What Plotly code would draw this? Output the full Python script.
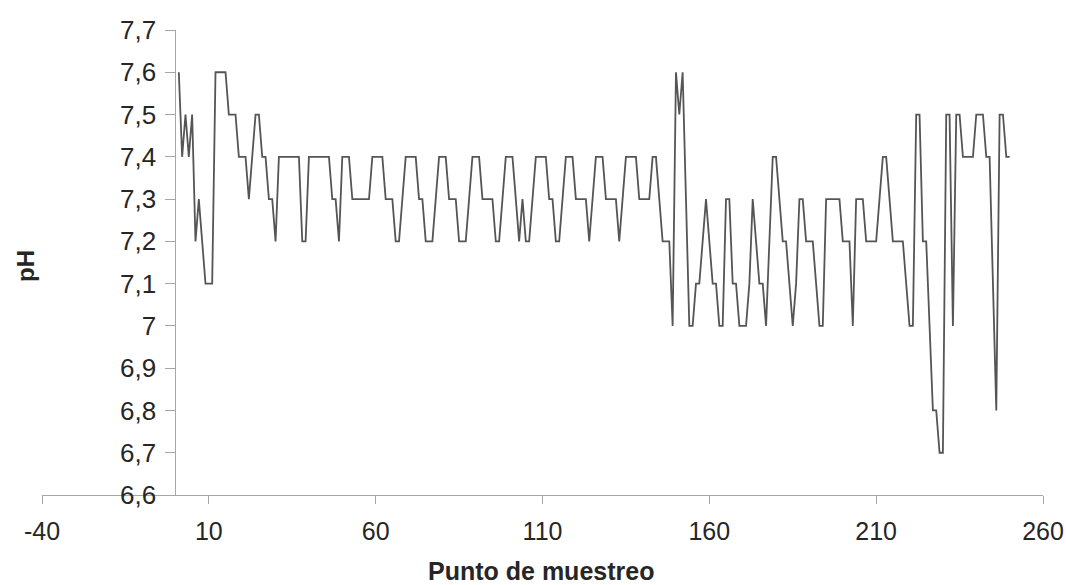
import plotly.graph_objects as go

# --- data -------------------------------------------------------------
muestra = list(range(1, 251))

ph = [
    7.6, 7.4, 7.5, 7.4, 7.5, 7.2, 7.3, 7.2, 7.1, 7.1,
    7.1, 7.6, 7.6, 7.6, 7.6, 7.5, 7.5, 7.5, 7.4, 7.4,
    7.4, 7.3, 7.4, 7.5, 7.5, 7.4, 7.4, 7.3, 7.3, 7.2,
    7.4, 7.4, 7.4, 7.4, 7.4, 7.4, 7.4, 7.2, 7.2, 7.4,
    7.4, 7.4, 7.4, 7.4, 7.4, 7.4, 7.3, 7.3, 7.2, 7.4,
    7.4, 7.4, 7.3, 7.3, 7.3, 7.3, 7.3, 7.3, 7.4, 7.4,
    7.4, 7.4, 7.3, 7.3, 7.3, 7.2, 7.2, 7.3, 7.4, 7.4,
    7.4, 7.4, 7.3, 7.3, 7.2, 7.2, 7.2, 7.3, 7.4, 7.4,
    7.4, 7.3, 7.3, 7.3, 7.2, 7.2, 7.2, 7.3, 7.4, 7.4,
    7.4, 7.3, 7.3, 7.3, 7.3, 7.2, 7.2, 7.3, 7.4, 7.4,
    7.4, 7.3, 7.2, 7.3, 7.2, 7.2, 7.3, 7.4, 7.4, 7.4,
    7.4, 7.3, 7.3, 7.2, 7.2, 7.3, 7.4, 7.4, 7.4, 7.3,
    7.3, 7.3, 7.3, 7.2, 7.3, 7.4, 7.4, 7.4, 7.3, 7.3,
    7.3, 7.3, 7.2, 7.3, 7.4, 7.4, 7.4, 7.4, 7.3, 7.3,
    7.3, 7.3, 7.4, 7.4, 7.3, 7.2, 7.2, 7.2, 7.0, 7.6,
    7.5, 7.6, 7.3, 7.0, 7.0, 7.1, 7.1, 7.2, 7.3, 7.2,
    7.1, 7.1, 7.0, 7.0, 7.3, 7.3, 7.1, 7.1, 7.0, 7.0,
    7.0, 7.1, 7.3, 7.2, 7.1, 7.1, 7.0, 7.2, 7.4, 7.4,
    7.3, 7.2, 7.2, 7.1, 7.0, 7.1, 7.3, 7.3, 7.2, 7.2,
    7.2, 7.1, 7.0, 7.0, 7.3, 7.3, 7.3, 7.3, 7.3, 7.2,
    7.2, 7.2, 7.0, 7.3, 7.3, 7.3, 7.2, 7.2, 7.2, 7.2,
    7.3, 7.4, 7.4, 7.3, 7.2, 7.2, 7.2, 7.2, 7.1, 7.0,
    7.0, 7.5, 7.5, 7.2, 7.2, 7.0, 6.8, 6.8, 6.7, 6.7,
    7.5, 7.5, 7.0, 7.5, 7.5, 7.4, 7.4, 7.4, 7.4, 7.5,
    7.5, 7.5, 7.4, 7.4, 7.1, 6.8, 7.5, 7.5, 7.4, 7.4,
]

x_ticks = [-40, 10, 60, 110, 160, 210, 260]
y_ticks = [6.6, 6.7, 6.8, 6.9, 7.0, 7.1, 7.2, 7.3, 7.4, 7.5, 7.6, 7.7]
y_labels = ["6,6", "6,7", "6,8", "6,9", "7", "7,1", "7,2", "7,3",
            "7,4", "7,5", "7,6", "7,7"]

x_title = "Punto de muestreo"
y_title = "pH"

# --- figure -----------------------------------------------------------
FONT = "Liberation Sans, Arial, sans-serif"
AXIS_COLOR = "#a6a6a6"
TEXT_COLOR = "#262626"

fig = go.Figure(
    go.Scatter(
        x=muestra,
        y=ph,
        mode="lines",
        line=dict(color="#555555", width=1.8),
        hoverinfo="x+y",
    )
)

W, H = 1066, 585
ML, MR, MT, MB = 42, 23, 30, 90
x_min, x_max = -40, 260

fig.update_layout(
    width=W,
    height=H,
    margin=dict(l=ML, r=MR, t=MT, b=MB, autoexpand=False),
    paper_bgcolor="white",
    plot_bgcolor="white",
    showlegend=False,
    font=dict(family=FONT, color=TEXT_COLOR, size=24),
    xaxis=dict(
        range=[x_min, x_max],
        tickvals=x_ticks,
        ticktext=[str(v) for v in x_ticks],
        showline=True,
        linecolor=AXIS_COLOR,
        linewidth=1,
        ticks="outside",
        ticklen=8,
        tickcolor=AXIS_COLOR,
        ticklabelstandoff=6,
        showgrid=False,
        zeroline=False,
        automargin=False,
        tickfont=dict(family=FONT, size=25, color=TEXT_COLOR),
    ),
    yaxis=dict(
        range=[6.6, 7.7],
        anchor="free",
        position=(0 - x_min) / (x_max - x_min),
        tickvals=y_ticks,
        ticktext=y_labels,
        showline=True,
        linecolor=AXIS_COLOR,
        linewidth=1,
        ticks="outside",
        ticklen=10,
        tickcolor=AXIS_COLOR,
        ticklabelstandoff=4,
        showgrid=False,
        zeroline=False,
        automargin=False,
        tickfont=dict(family=FONT, size=26, color=TEXT_COLOR),
    ),
    annotations=[
        dict(
            text=f"<b>{y_title}</b>",
            xref="paper", yref="paper",
            x=(25 - ML) / (W - ML - MR), y=(H - MB - 266) / (H - MT - MB),
            xanchor="center", yanchor="middle",
            textangle=-90, showarrow=False,
            font=dict(family=FONT, size=24, color=TEXT_COLOR),
        ),
        dict(
            text=f"<b>{x_title}</b>",
            xref="paper", yref="paper",
            x=(541 - ML) / (W - ML - MR), y=(H - MB - 571) / (H - MT - MB),
            xanchor="center", yanchor="middle",
            showarrow=False,
            font=dict(family=FONT, size=25, color=TEXT_COLOR),
        ),
    ],
)

fig.write_html("out.html")
